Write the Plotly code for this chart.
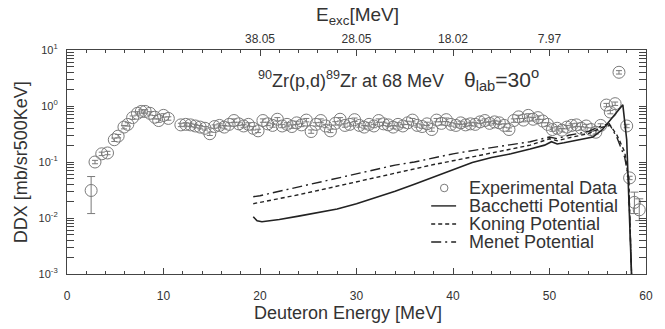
import plotly.graph_objects as go

# ---------------- data ----------------
E_exp = [2.9, 3.6, 4.2, 4.9, 5.3, 5.9, 6.3, 6.8, 7.3, 7.7, 8.1, 8.6, 9.1, 9.5, 10.0, 10.5,
         11.8, 12.3, 12.8, 13.3, 13.8, 14.3, 14.8, 15.3, 15.8, 16.3, 16.8, 17.3, 17.8, 18.3,
         18.8, 19.3, 19.8, 20.3, 20.8, 21.3, 21.8, 22.3, 22.8, 23.3, 23.8, 24.3, 24.8, 25.3,
         25.8, 26.3, 26.8, 27.3, 27.8, 28.3, 28.8, 29.3, 29.8, 30.3, 30.8, 31.3, 31.8, 32.3,
         32.8, 33.3, 33.8, 34.3, 34.8, 35.3, 35.8, 36.3, 36.8, 37.3, 37.8, 38.3, 38.8, 39.3,
         39.8, 40.3, 40.8, 41.3, 41.8, 42.3, 42.8, 43.3, 43.8, 44.3, 44.8, 45.3, 45.8, 46.3,
         46.8, 47.3, 47.8, 48.3, 48.8, 49.3, 49.8, 50.3, 50.8, 51.3, 51.8, 52.3, 52.8, 53.3,
         53.8, 54.3, 54.8, 55.3, 55.9, 56.3, 56.8, 57.2, 58.0, 58.3]
DDX_exp = [0.10, 0.14, 0.145, 0.25, 0.29, 0.42, 0.47, 0.62, 0.74, 0.80, 0.80, 0.74, 0.63, 0.55, 0.68, 0.60,
           0.46, 0.47, 0.46, 0.44, 0.42, 0.40, 0.32, 0.43, 0.45, 0.42, 0.47, 0.55, 0.48, 0.44,
           0.47, 0.40, 0.36, 0.55, 0.48, 0.45, 0.58, 0.44, 0.47, 0.43, 0.50, 0.46, 0.56, 0.35,
           0.47, 0.55, 0.44, 0.36, 0.49, 0.58, 0.45, 0.47, 0.57, 0.45, 0.42, 0.47, 0.44, 0.55,
           0.48, 0.46, 0.42, 0.47, 0.44, 0.50, 0.56, 0.45, 0.43, 0.48, 0.38, 0.56, 0.49, 0.57,
           0.47, 0.45, 0.50, 0.46, 0.48, 0.47, 0.52, 0.55, 0.49, 0.52, 0.50, 0.45, 0.38, 0.55,
           0.64, 0.56, 0.68, 0.58, 0.62, 0.54, 0.47, 0.38, 0.40, 0.37, 0.42, 0.45, 0.46, 0.40,
           0.44, 0.38, 0.34, 0.45, 1.04, 0.78, 1.10, 4.0, 0.44, 0.052]

# points with large, explicitly read error bars
E_err = [2.5, 58.8, 59.3]
DDX_err = [0.031, 0.019, 0.014]
err_plus = [0.024, 0.010, 0.008]
err_minus = [0.019, 0.007, 0.005]

# calculations
E_bac = [19.3, 19.7, 20.2, 22, 24, 26, 28, 30, 32, 34, 36, 38, 40, 42, 44, 46, 48, 49.5,
         50.2, 50.8, 51.5, 53, 54.5, 55.5, 56.5, 57.3, 57.6, 58.0, 58.2, 58.35, 58.5]
DDX_bac = [0.0105, 0.0089, 0.0086, 0.0094, 0.0108, 0.0124, 0.0145, 0.018, 0.023, 0.030,
           0.040, 0.054, 0.074, 0.098, 0.12, 0.14, 0.17, 0.20, 0.23, 0.21, 0.22, 0.25,
           0.28, 0.38, 0.62, 0.95, 1.05, 0.25, 0.02, 0.003, 0.001]

E_kon = [19.3, 20, 22, 24, 26, 28, 30, 32, 34, 36, 38, 40, 42, 44, 46, 48, 50, 50.8, 52,
         54, 55.5, 56.3, 57, 57.8, 58.2, 58.4, 58.5]
DDX_kon = [0.018, 0.019, 0.022, 0.026, 0.031, 0.037, 0.045, 0.054, 0.064, 0.076, 0.09,
           0.105, 0.125, 0.145, 0.17, 0.20, 0.26, 0.24, 0.27, 0.32, 0.42, 0.45, 0.30, 0.15,
           0.05, 0.003, 0.001]

E_men = [19.3, 20, 22, 24, 26, 28, 30, 32, 34, 36, 38, 40, 42, 44, 46, 48, 50, 50.8, 52,
         54, 55.5, 56.2, 57, 57.8, 58.2, 58.4, 58.5]
DDX_men = [0.024, 0.025, 0.030, 0.036, 0.043, 0.052, 0.062, 0.074, 0.088, 0.10, 0.12,
           0.14, 0.16, 0.18, 0.20, 0.23, 0.28, 0.26, 0.30, 0.35, 0.45, 0.48, 0.27, 0.12,
           0.05, 0.003, 0.001]

top_tick_E = [20, 30, 40, 50]
top_tick_text = ["38.05", "28.05", "18.02", "7.97"]
y_tick_vals = [1e-3, 1e-2, 1e-1, 1e0, 1e1]
y_tick_text = ["10<sup>-3</sup>", "10<sup>-2</sup>", "10<sup>-1</sup>", "10<sup>0</sup>", "10<sup>1</sup>"]

legend_labels = ["Experimental Data", "Bacchetti Potential", "Koning Potential", "Menet Potential"]

# ---------------- figure ----------------
TXT = "#333333"
AX = "#444444"
MK = "#7a7a7a"
LN = "#222222"
FONT = "Liberation Sans, Arial, sans-serif"
NARROW = "Liberation Sans Narrow, Arial Narrow, Liberation Sans, sans-serif"

fig = go.Figure()
fig.add_trace(go.Scatter(
    x=E_exp, y=DDX_exp, mode="markers", name=legend_labels[0], showlegend=False,
    marker=dict(symbol="circle-open", size=12, color=MK, line=dict(width=1)),
    error_y=dict(type="percent", value=7, color=MK, thickness=1, width=3),
))
fig.add_trace(go.Scatter(
    x=E_err, y=DDX_err, mode="markers", showlegend=False,
    marker=dict(symbol="circle-open", size=12, color=MK, line=dict(width=1)),
    error_y=dict(type="data", array=err_plus, arrayminus=err_minus, symmetric=False,
                 color=MK, thickness=1, width=4),
))
dash_bac, dash_kon, dash_men = "solid", "4px,3px", "10px,4px,2px,4px"
fig.add_trace(go.Scatter(x=E_bac, y=DDX_bac, mode="lines", name=legend_labels[1],
                         showlegend=False, line=dict(color=LN, width=1.6, dash=dash_bac)))
fig.add_trace(go.Scatter(x=E_kon, y=DDX_kon, mode="lines", name=legend_labels[2],
                         showlegend=False, line=dict(color=LN, width=1.4, dash=dash_kon)))
fig.add_trace(go.Scatter(x=E_men, y=DDX_men, mode="lines", name=legend_labels[3],
                         showlegend=False, line=dict(color=LN, width=1.4, dash=dash_men)))
# invisible trace to anchor the top axis
fig.add_trace(go.Scatter(x=top_tick_E, y=[1, 1, 1, 1], xaxis="x2", mode="markers",
                         marker=dict(opacity=0), showlegend=False, hoverinfo="skip"))

fig.update_layout(
    width=665, height=329,
    margin=dict(l=67, r=13, t=50, b=55),
    paper_bgcolor="white", plot_bgcolor="white",
    font=dict(family=FONT, color=TXT, size=13),
    showlegend=False,
    xaxis=dict(range=[0, 60], showline=True, linecolor=AX, linewidth=1.2, mirror=False,
               ticks="inside", ticklen=6, tickcolor=AX, dtick=10, tick0=0,
               minor=dict(dtick=2, ticks="inside", ticklen=3, tickcolor=AX),
               showgrid=False, zeroline=False,
               tickfont=dict(family=NARROW, size=12, color=TXT), ticklabelstandoff=10),
    xaxis2=dict(range=[0, 60], overlaying="x", side="top", showline=True, linecolor=AX,
                linewidth=1.2, ticks="inside", ticklen=6, tickcolor=AX,
                tickvals=top_tick_E, ticktext=top_tick_text,
                minor=dict(dtick=2, tick0=0, ticks="inside", ticklen=3, tickcolor=AX),
                showgrid=False, zeroline=False,
                tickfont=dict(family=NARROW, size=12, color=TXT), ticklabelstandoff=1),
    yaxis=dict(type="log", range=[-3, 1], showline=True, linecolor=AX, linewidth=1.2,
               mirror="allticks", ticks="inside", ticklen=7, tickcolor=AX,
               tickvals=y_tick_vals, ticktext=y_tick_text,
               minor=dict(dtick="D1", ticks="inside", ticklen=4, tickcolor=AX),
               showgrid=False, zeroline=False,
               tickfont=dict(family=NARROW, size=11, color=TXT), ticklabelstandoff=6),
)

# axis titles and in-plot text
fig.add_annotation(text="Deuteron Energy [MeV]", xref="paper", yref="paper",
                   x=0.485, y=-0.174, xanchor="center", yanchor="middle", showarrow=False,
                   font=dict(size=18, family=FONT, color=TXT))
fig.add_annotation(text="DDX [mb/sr500KeV]", xref="paper", x=-0.079, xanchor="center",
                   yref="paper", y=0.5, yanchor="middle", textangle=-90, showarrow=False,
                   font=dict(size=18, family=FONT, color=TXT))
fig.add_annotation(text="E<sub>exc</sub>[MeV]", xref="paper", yref="paper",
                   x=0.502, y=1.15, xanchor="center", yanchor="middle", showarrow=False,
                   font=dict(size=19, family=FONT, color=TXT))
fig.add_annotation(text="<sup>90</sup>Zr(p,d)<sup>89</sup>Zr at 68 MeV", xref="paper",
                   yref="paper", x=0.49, y=0.87, xanchor="center", yanchor="middle",
                   showarrow=False, font=dict(size=18, family=FONT, color=TXT))
fig.add_annotation(text="θ<sub>lab</sub>=30<sup>o</sup>", xref="paper", yref="paper",
                   x=0.75, y=0.87, xanchor="center", yanchor="middle", showarrow=False,
                   font=dict(size=21, family=FONT, color=TXT))

# legend (drawn by hand to match the tight row spacing)
leg_y = [0.384, 0.304, 0.223, 0.143]
key_x0, key_x1, txt_x = 0.629, 0.672, 0.69
for lbl, yy in zip(legend_labels, leg_y):
    fig.add_annotation(text=lbl, xref="paper", yref="paper", x=txt_x, y=yy,
                       xanchor="left", yanchor="middle", showarrow=False, height=18,
                       font=dict(size=18, family=FONT, color=TXT))
fig.add_shape(type="circle", xref="paper", yref="paper",
              x0=0.645, x1=0.658, y0=leg_y[0] - 0.017, y1=leg_y[0] + 0.017,
              line=dict(color=MK, width=1))
for dsh, yy in zip([dash_bac, dash_kon, dash_men], leg_y[1:]):
    fig.add_shape(type="line", xref="paper", yref="paper", x0=key_x0, x1=key_x1,
                  y0=yy, y1=yy, line=dict(color=LN, width=1.4, dash=dsh))

fig.write_html("out.html")
